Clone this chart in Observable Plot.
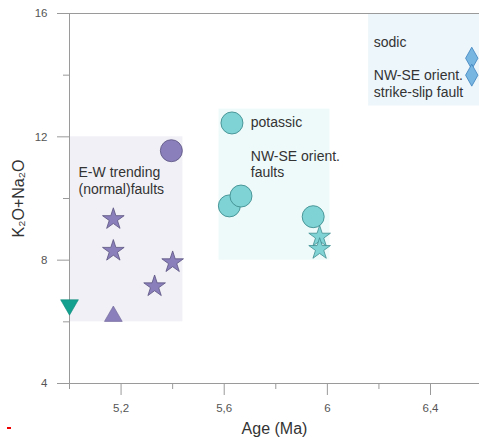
<!DOCTYPE html>
<html><head><meta charset="utf-8">
<script src="https://cdn.jsdelivr.net/npm/d3@7"></script>
<script src="https://cdn.jsdelivr.net/npm/@observablehq/plot@0.6"></script>
<style>
body{margin:0;background:#fff;}
#chart{position:relative;width:479px;height:438px;}
#mark{position:absolute;left:7px;top:427px;width:4px;height:2px;background:#e00;}
</style></head><body><div id="chart"><div id="mark"></div></div>
<script>
// ---- data ----
const boxNames = ["ew", "potassic", "sodic"];
const boxAgeFrom = [5.0, 5.58, 6.16];
const boxAgeTo = [5.44, 6.01, 6.59];
const boxAlkFrom = [6.0, 8.0, 13.0];
const boxAlkTo = [12.0, 12.9, 16.0];

const ewCircleAge = [5.395];
const ewCircleAlk = [11.55];
const ewStarAge = [5.17, 5.17, 5.40, 5.33];
const ewStarAlk = [9.33, 8.30, 7.93, 7.15];
const ewTriangleAge = [5.17];
const ewTriangleAlk = [6.18];
const tealTriangleAge = [5.0];
const tealTriangleAlk = [6.55];
const kCircleAge = [5.63, 5.62, 5.665, 5.945];
const kCircleAlk = [12.45, 9.76, 10.08, 9.41];
const kStarAge = [5.97, 5.97];
const kStarAlk = [8.76, 8.36];
const naDiamondAge = [6.56, 6.56];
const naDiamondAlk = [14.55, 14.0];

const noteText = ["E-W trending", "(normal)faults", "potassic", "NW-SE orient.", "faults", "sodic", "NW-SE orient.", "strike-slip fault"];
const noteAge = [5.035, 5.035, 5.703, 5.703, 5.703, 6.18, 6.18, 6.18];
const noteAlk = [10.83, 10.29, 12.45, 11.36, 10.84, 15.06, 13.99, 13.45];

const xTicks = [5.2, 5.6, 6.0, 6.4];
const xTickLabels = ["5,2", "5,6", "6", "6,4"];
const xMinor = [5.0, 5.4, 5.8, 6.2];
const yTicks = [4, 8, 12, 16];
const yMinor = [6, 10, 14];
const xTitle = "Age (Ma)";
const yTitle = "K\u2082O+Na\u2082O";

// ---- build ----
const pts = (xs, ys) => xs.map((x, i) => ({x, y: ys[i]}));
const boxes = boxNames.map((n, i) => ({n, x1: boxAgeFrom[i], x2: boxAgeTo[i], y1: boxAlkFrom[i], y2: boxAlkTo[i]}));
const boxColor = {ew: "#f1f0f6", potassic: "#eefafa", sodic: "#edf6fb"};
const notes = noteText.map((t, i) => ({t, x: noteAge[i], y: noteAlk[i]}));

const triangleDown = {draw(ctx, size) {
  const y = Math.sqrt(size / (Math.sqrt(3) * 3));
  ctx.moveTo(0, 2 * y); ctx.lineTo(-Math.sqrt(3) * y, -y); ctx.lineTo(Math.sqrt(3) * y, -y); ctx.closePath();
}};
const diamondTall = {draw(ctx, size) {
  const r = Math.sqrt(size / Math.PI);
  const w = r * 0.95, h = r * 1.69;
  ctx.moveTo(0, -h); ctx.lineTo(w, 0); ctx.lineTo(0, h); ctx.lineTo(-w, 0); ctx.closePath();
}};

const axisGray = "#9a9a9a";
const labelGray = "#555";

const chart = Plot.plot({
  width: 479,
  height: 438,
  marginLeft: 69,
  marginRight: 0,
  marginTop: 13,
  marginBottom: 55,
  style: {fontFamily: "'Liberation Sans', Arial, sans-serif", background: "white"},
  x: {domain: [5.0, 6.59], label: null},
  y: {domain: [4, 16], label: null},
  marks: [
    Plot.rect(boxes, {x1: "x1", x2: "x2", y1: "y1", y2: "y2", fill: d => boxColor[d.n]}),
    Plot.ruleX([5.0], {stroke: axisGray}),
    Plot.ruleY([4, 16], {stroke: axisGray}),
    Plot.axisY(yTicks, {tickSize: 12, tickPadding: 10, fontSize: 11.5, stroke: axisGray, fill: labelGray, label: null}),
    Plot.axisY(yMinor, {tickSize: 6, tickFormat: () => "", stroke: axisGray, label: null}),
    Plot.axisX(xTicks, {tickSize: 12, tickPadding: 8, fontSize: 11.5, stroke: axisGray, fill: labelGray, label: null,
      tickFormat: d => xTickLabels[xTicks.indexOf(d)]}),
    Plot.axisX(xMinor, {tickSize: 6, tickFormat: () => "", stroke: axisGray, label: null}),
    // E-W group
    Plot.dot(pts(ewCircleAge, ewCircleAlk), {x: "x", y: "y", r: 11, fill: "#8a7fba", stroke: "#5b5380", strokeWidth: 0.8}),
    Plot.dot(pts(ewStarAge, ewStarAlk), {x: "x", y: "y", symbol: "star", r: 6.8, fill: "#8a7fba", stroke: "#5b5380", strokeWidth: 0.8}),
    Plot.dot(pts(ewTriangleAge, ewTriangleAlk), {x: "x", y: "y", symbol: "triangle", r: 6.6, fill: "#8a7fba", stroke: "#6b6395", strokeWidth: 0.6}),
    Plot.dot(pts(tealTriangleAge, tealTriangleAlk), {x: "x", y: "y", symbol: triangleDown, r: 6.6, fill: "#14a08e", stroke: "#0e8a7a", strokeWidth: 0.6}),
    // potassic group
    Plot.dot(pts(kCircleAge, kCircleAlk), {x: "x", y: "y", r: 11, fill: "#7fd3d4", stroke: "#3f8d90", strokeWidth: 0.9}),
    Plot.dot(pts(kStarAge, kStarAlk), {x: "x", y: "y", symbol: "star", r: 6.8, fill: "#7fd3d4", stroke: "#3f8d90", strokeWidth: 0.8}),
    // sodic group
    Plot.dot(pts(naDiamondAge, naDiamondAlk), {x: "x", y: "y", symbol: diamondTall, r: 6.5, fill: "#78b6e2", stroke: "#3c82bd", strokeWidth: 0.8}),
    // annotations
    Plot.text(notes, {x: "x", y: "y", text: "t", textAnchor: "start", lineAnchor: "middle", fontSize: 14, fill: "#333"}),
    // axis titles
    Plot.text([xTitle], {frameAnchor: "bottom", dy: 45, fontSize: 16, fill: "#333", lineAnchor: "middle"}),
    Plot.text([yTitle], {frameAnchor: "left", dx: -51, rotate: -90, textAnchor: "middle", fontSize: 16, fill: "#333", lineAnchor: "middle"})
  ]
});
document.getElementById("chart").prepend(chart);
</script>
</body></html>
